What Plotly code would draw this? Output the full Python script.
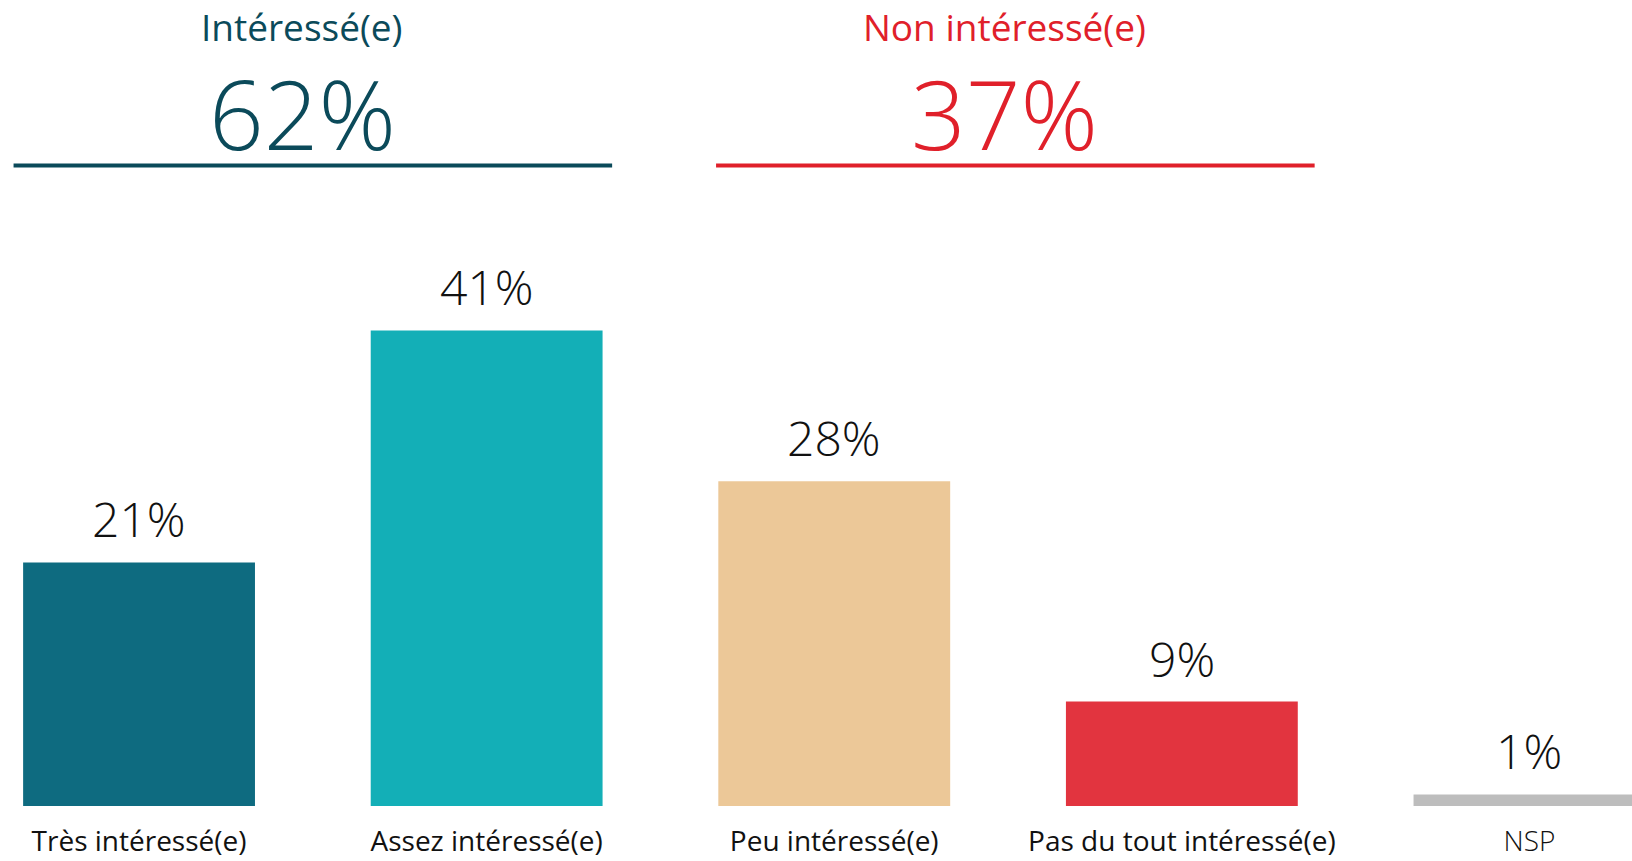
import plotly.graph_objects as go

categories = ["Très intéressé(e)", "Assez intéressé(e)", "Peu intéressé(e)",
              "Pas du tout intéressé(e)", "NSP"]
values = [21, 41, 28, 9, 1]
value_labels = ["21%", "41%", "28%", "9%", "1%"]
bar_colors = ["#0E6B80", "#13AFB7", "#ECC898", "#E2343F", "#BDBDBD"]

group_titles = ["Intéressé(e)", "Non intéressé(e)"]
group_totals = ["62%", "37%"]
group_colors = ["#0B4A5A", "#E0202A"]
group_spans = [(-0.361, 1.361), (1.66, 3.382)]

W, H = 1632, 861
B = 55
PX_PER_UNIT = 11.6

fig = go.Figure()
fig.add_trace(go.Bar(
    x=list(range(len(categories))), y=values,
    marker=dict(color=bar_colors, line=dict(width=0)),
    width=0.667, hoverinfo="skip", showlegend=False,
))

font_fam = "Open Sans, Lato, sans-serif"
for i, (v, lab) in enumerate(zip(values, value_labels)):
    fig.add_annotation(x=i, y=v, text=lab, showarrow=False, xref="x", yref="y",
                       yanchor="bottom", yshift=9,
                       font=dict(family=font_fam, size=48, color="#111111", weight=300))

plot_h = H - B
for (x0, x1), t, tot, c in zip(group_spans, group_titles, group_totals, group_colors):
    yline = (plot_h - 165.5) / PX_PER_UNIT
    fig.add_shape(type="line", x0=x0, x1=x1, y0=yline, y1=yline, xref="x", yref="y",
                  line=dict(color=c, width=4))
    xc = (x0 + x1) / 2 - 0.03
    fig.add_annotation(x=xc, y=(plot_h - 112) / PX_PER_UNIT, text=tot, showarrow=False,
                       xref="x", yref="y", yanchor="middle",
                       font=dict(family=font_fam, size=96, color=c, weight=300))
    fig.add_annotation(x=xc, y=(plot_h - 26) / PX_PER_UNIT, text=t, showarrow=False,
                       xref="x", yref="y", yanchor="middle",
                       font=dict(family=font_fam, size=37, color=c))

tick_text = [c if c != "NSP" else '<span style="font-weight:300">NSP</span>'
             for c in categories]

fig.update_layout(
    width=W, height=H,
    margin=dict(l=0, r=0, t=0, b=B),
    plot_bgcolor="white", paper_bgcolor="white",
    xaxis=dict(range=[-0.4, 4.295], tickmode="array",
               tickvals=list(range(len(categories))), ticktext=tick_text,
               showgrid=False, zeroline=False, showline=False, ticks="",
               ticklabelstandoff=16,
               tickfont=dict(family=font_fam, size=28, color="#111111"),
               fixedrange=True),
    yaxis=dict(range=[0, plot_h / PX_PER_UNIT], visible=False, showgrid=False,
               zeroline=False, fixedrange=True),
    bargap=0.333,
)

fig.write_html("out.html", config={"displayModeBar": False},
               post_script="document.body.style.margin='0';")
